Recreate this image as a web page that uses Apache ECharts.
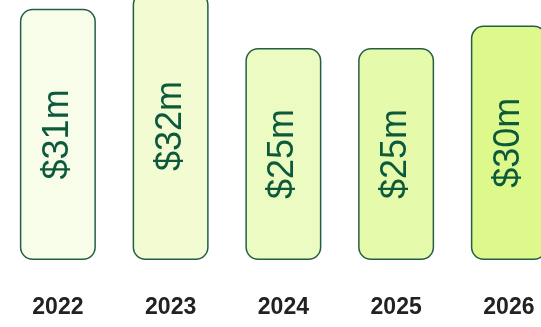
<!DOCTYPE html>
<html>
<head>
<meta charset="utf-8">
<script src="https://cdn.jsdelivr.net/npm/echarts@6/dist/echarts.min.js"></script>
<style>
html,body{margin:0;padding:0;background:#fff;}
#c{width:541px;height:327px;}
</style>
</head>
<body>
<div id="c"></div>
<script>
const years = ['2022', '2023', '2024', '2025', '2026'];
const values = [31.4, 33.5, 26.5, 26.5, 29.3];
const valueLabels = ['$31m', '$32m', '$25m', '$25m', '$30m'];
const fills = ['#f8fdea', '#f2fbd2', '#ebfbc2', '#e5faab', '#ddf98c'];

const chart = echarts.init(document.getElementById('c'), null, {renderer: 'canvas'});
chart.setOption({
  animation: false,
  backgroundColor: '#ffffff',
  grid: {left: 1.5, right: -24.25, top: -20, bottom: 67, containLabel: false, outerBoundsMode: 'none'},
  xAxis: {
    type: 'category',
    data: years,
    axisLine: {show: false},
    axisTick: {show: false},
    axisLabel: {
      margin: 36,
      fontFamily: 'Liberation Sans, Arial, sans-serif',
      fontWeight: 'bold',
      fontSize: 23,
      color: '#222222'
    }
  },
  yAxis: {
    type: 'value',
    min: 0,
    max: 35,
    show: false,
    splitLine: {show: false}
  },
  series: [{
    type: 'bar',
    barWidth: 76,
    clip: false,
    data: values.map((v, i) => ({
      value: v,
      itemStyle: {color: fills[i]}
    })),
    itemStyle: {
      borderColor: '#245f45',
      borderWidth: 1.5,
      borderRadius: 12
    },
    label: {
      show: true,
      position: 'inside',
      rotate: 90,
      formatter: p => valueLabels[p.dataIndex],
      fontFamily: 'Liberation Sans, Arial, sans-serif',
      fontSize: 36,
      color: '#0c5a3b'
    }
  }]
});
</script>
</body>
</html>
